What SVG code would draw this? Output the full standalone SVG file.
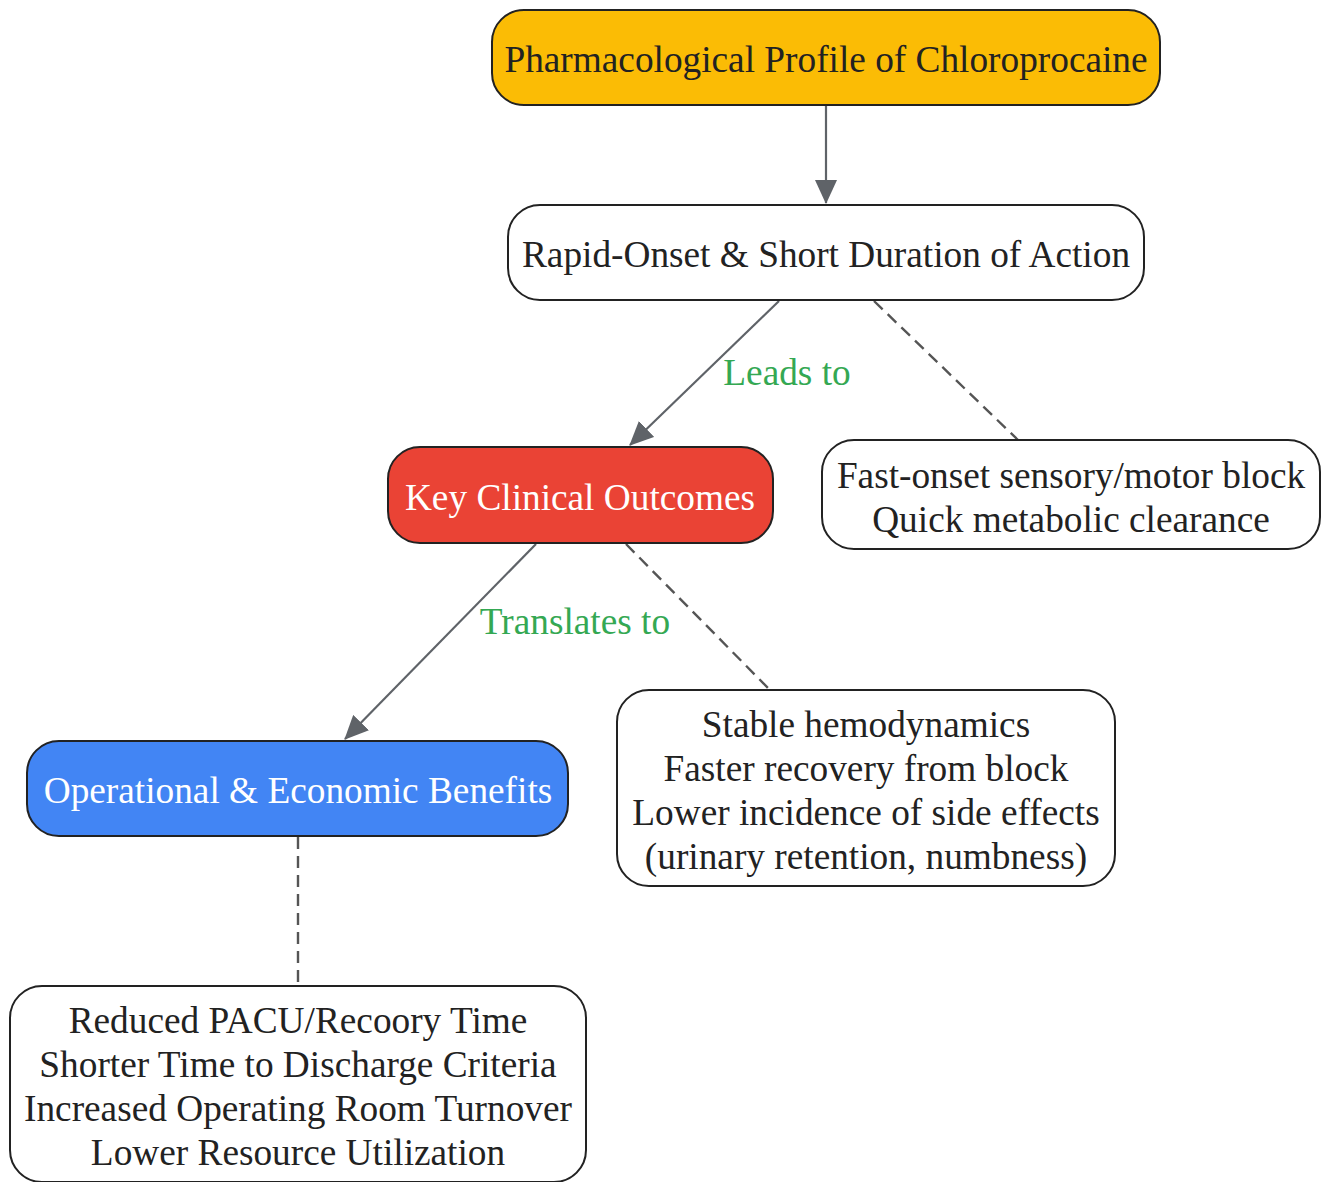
<svg xmlns="http://www.w3.org/2000/svg" width="1321" height="1182" viewBox="0 0 1321 1182">
<defs>
<marker id="arr" viewBox="0 0 24 22" refX="23" refY="11" markerWidth="24" markerHeight="22" markerUnits="userSpaceOnUse" orient="auto">
<path d="M0,0 L24,11 L0,22 z" fill="#5f6368"/>
</marker>
<style>
.n{stroke:#222;stroke-width:2}
.t{font-family:"Liberation Serif","Times New Roman",serif;font-size:37.3px;fill:#222;text-anchor:middle}
.w{fill:#fff}
.l{font-family:"Liberation Serif","Times New Roman",serif;font-size:37.3px;fill:#34A853;text-anchor:middle}
.e{stroke:#5f6368;stroke-width:2.2;fill:none}
.d{stroke:#555;stroke-width:2.4;fill:none;stroke-dasharray:12,7}
</style>
</defs>
<rect width="1321" height="1182" fill="#fff"/>
<g id="connectors">
<line class="e" x1="826" y1="106" x2="826" y2="203" marker-end="url(#arr)"/>
<line class="e" x1="779" y1="301" x2="630" y2="445" marker-end="url(#arr)"/>
<line class="d" x1="874" y1="301" x2="1018" y2="440"/>
<line class="e" x1="536" y1="544" x2="345" y2="739" marker-end="url(#arr)"/>
<line class="d" x1="626" y1="544" x2="769" y2="689"/>
<line class="d" x1="298" y1="837" x2="298" y2="986"/>
<text class="l" x="787" y="385">Leads to</text>
<text class="l" x="575" y="634">Translates to</text>
</g>
<g id="n1">
<rect class="n" x="492" y="10" width="668" height="95" rx="32" fill="#FBBC05"/>
<text class="t" x="826" y="72">Pharmacological Profile of Chloroprocaine</text>
</g>
<g id="n2">
<rect class="n" x="508" y="205" width="636" height="95" rx="32" fill="#fff"/>
<text class="t" x="826" y="267">Rapid-Onset &amp; Short Duration of Action</text>
</g>
<g id="n3">
<rect class="n" x="388" y="447" width="385" height="96" rx="32" fill="#EA4335"/>
<text class="t w" x="580" y="510">Key Clinical Outcomes</text>
</g>
<g id="n4">
<rect class="n" x="822" y="440" width="498" height="109" rx="32" fill="#fff"/>
<text class="t" x="1071" y="488">Fast-onset sensory/motor block</text>
<text class="t" x="1071" y="532">Quick metabolic clearance</text>
</g>
<g id="n5">
<rect class="n" x="27" y="741" width="541" height="95" rx="32" fill="#4285F4"/>
<text class="t w" x="298" y="803">Operational &amp; Economic Benefits</text>
</g>
<g id="n6">
<rect class="n" x="617" y="690" width="498" height="196" rx="32" fill="#fff"/>
<text class="t" x="866" y="737">Stable hemodynamics</text>
<text class="t" x="866" y="781">Faster recovery from block</text>
<text class="t" x="866" y="825">Lower incidence of side effects</text>
<text class="t" x="866" y="869">(urinary retention, numbness)</text>
</g>
<g id="n7">
<rect class="n" x="10" y="986" width="576" height="196" rx="32" fill="#fff"/>
<text class="t" x="298" y="1033">Reduced PACU/Recoory Time</text>
<text class="t" x="298" y="1077">Shorter Time to Discharge Criteria</text>
<text class="t" x="298" y="1121">Increased Operating Room Turnover</text>
<text class="t" x="298" y="1165">Lower Resource Utilization</text>
</g>
</svg>
